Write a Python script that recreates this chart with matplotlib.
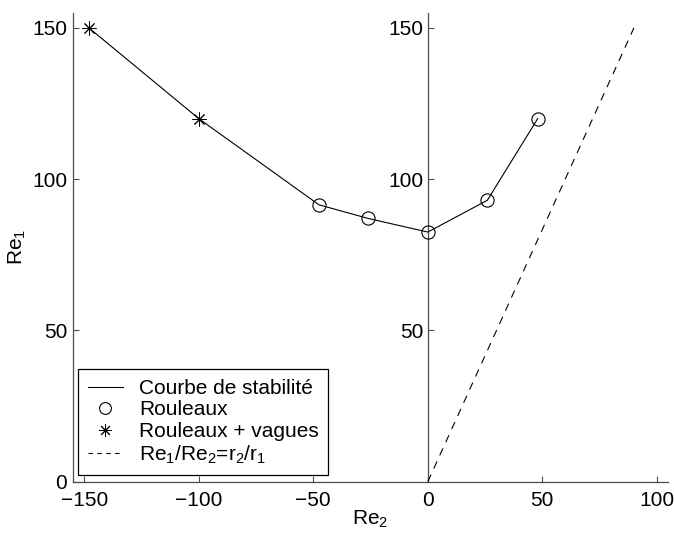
import numpy as np
import matplotlib
matplotlib.use("Agg")
import matplotlib.pyplot as plt
from matplotlib.lines import Line2D

plt.rcParams['font.family'] = ['Liberation Sans', 'DejaVu Sans']
plt.rcParams['mathtext.default'] = 'regular'
plt.rcParams['xtick.direction'] = 'in'
plt.rcParams['ytick.direction'] = 'in'

# stability curve: Re2 (outer) vs Re1 (inner)
re2_curve = [-148, -100, -47.5, -26, 0, 26, 48]
re1_curve = [150, 120, 91.5, 87, 82.5, 93, 120]

# observed states along the curve
re2_rolls = [-47.5, -26, 0, 26, 48]
re1_rolls = [91.5, 87, 82.5, 93, 120]
re2_waves = [-148, -100]
re1_waves = [150, 120]

# Rayleigh line Re1/Re2 = r2/r1
ratio = 1 / 0.6
re2_line = np.array([0, 90])
re1_line = ratio * re2_line

fs = 15
axis_col = '0.3'
dash = (0, (7, 6))

fig = plt.figure(figsize=(6.74, 5.33), dpi=100)
ax = fig.add_axes([0.108, 0.0962, 0.8835, 0.8800])

ax.plot(re2_curve, re1_curve, color='k', lw=0.8)
ax.plot(re2_rolls, re1_rolls, ls='none', marker='o', ms=9.5, mfc='none', mec='k', mew=0.8)
ax.plot(re2_waves, re1_waves, ls='none', marker=(8, 2, 0), ms=10, mec='k', mew=0.7)
ax.plot(re2_line, re1_line, color='k', lw=0.8, ls=dash)

ax.set_xlim(-155, 105)
ax.set_ylim(0, 155)
ax.set_xticks([-150, -100, -50, 0, 50, 100])
ax.set_yticks([0, 50, 100, 150])
ax.tick_params(labelsize=fs, length=4, width=0.8, color=axis_col)
ax.tick_params(axis='x', pad=6.5)
ax.tick_params(axis='y', pad=4)

for side in ['top', 'right']:
    ax.spines[side].set_visible(False)
for side in ['left', 'bottom']:
    ax.spines[side].set_color(axis_col)
    ax.spines[side].set_linewidth(0.9)

# second y axis through Re2 = 0
sec = ax.secondary_yaxis(0, transform=ax.transData)
sec.set_yticks([50, 100, 150])
sec.tick_params(labelsize=fs, length=4, width=0.8, color=axis_col, pad=3)
sec.spines['left'].set_color(axis_col)
sec.spines['left'].set_linewidth(0.9)

ax.set_xlabel('Re$_2$', fontsize=fs, labelpad=-1)
ax.set_ylabel('Re$_1$', fontsize=fs, labelpad=3)

handles = [
    Line2D([], [], color='k', lw=0.8),
    Line2D([], [], ls='none', marker='o', ms=8.5, mfc='none', mec='k', mew=0.8),
    Line2D([], [], ls='none', marker=(8, 2, 0), ms=9, mec='k', mew=0.7),
    Line2D([], [], color='k', lw=0.8, ls=(0, (4, 4))),
]
labels = ['Courbe de stabilité', 'Rouleaux', 'Rouleaux + vagues',
          'Re$_1$/Re$_2$=r$_2$/r$_1$']
leg = ax.legend(handles, labels, loc='lower left', bbox_to_anchor=(0.0094, 0.0143),
                borderaxespad=0, fontsize=fs, fancybox=False, framealpha=1,
                edgecolor='k', borderpad=0.45, labelspacing=0.12,
                handlelength=1.7, handletextpad=0.75)
leg.get_frame().set_linewidth(0.9)

fig.savefig('out.png', dpi=100)
